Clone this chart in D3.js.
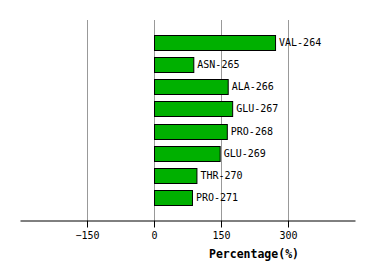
<!DOCTYPE html>
<html>
<head>
<meta charset="utf-8">
<style>
  body { margin: 0; background: #fff; }
  svg text { font-family: "DejaVu Sans Mono", monospace; }
</style>
</head>
<body>
<div id="chart"></div>
<script src="https://d3js.org/d3.v7.min.js"></script>
<script>
var residues = ["VAL-264", "ASN-265", "ALA-266", "GLU-267", "PRO-268", "GLU-269", "THR-270", "PRO-271"];
var percents = [271, 88, 165, 175, 163, 147, 95, 85];
var tickValues = [-150, 0, 150, 300];

var width = 374, height = 280;
var plotLeft = 20, plotRight = 355, plotTop = 20, plotBottom = 220;

var svg = d3.select("#chart").append("svg")
  .attr("width", width)
  .attr("height", height);

var x = d3.scaleLinear().domain([-300, 450]).range([plotLeft, plotRight]);
var y = d3.scalePoint().domain(residues).range([plotTop, plotBottom]).padding(1);

// grid
svg.append("g").selectAll("line")
  .data(tickValues)
  .enter().append("line")
  .attr("x1", function(d) { return Math.round(x(d)) + 0.5; })
  .attr("x2", function(d) { return Math.round(x(d)) + 0.5; })
  .attr("y1", plotTop)
  .attr("y2", plotBottom)
  .style("stroke", "#999")
  .style("stroke-width", 1);

// bars
var barH = 15;
svg.append("g").selectAll("rect")
  .data(residues)
  .enter().append("rect")
  .attr("x", Math.round(x(0)) + 0.5)
  .attr("y", function(d) { return Math.round(y(d) - barH / 2) + 0.5; })
  .attr("width", function(d, i) { return x(percents[i]) - x(0); })
  .attr("height", barH)
  .style("fill", "#00b000")
  .style("stroke", "#000")
  .style("stroke-width", 1);

svg.append("g").selectAll("text")
  .data(residues)
  .enter().append("text")
  .attr("x", function(d, i) { return x(percents[i]) + 4; })
  .attr("y", function(d) { return y(d); })
  .attr("dy", "0.35em")
  .style("font-size", "10px")
  .style("fill", "#000")
  .text(function(d) { return d; });

// axis
var axis = svg.append("g")
  .attr("transform", "translate(0," + (plotBottom + 0.5) + ")")
  .call(d3.axisBottom(x).tickValues(tickValues).tickSize(7).tickSizeOuter(0).tickPadding(4));
axis.select(".domain").style("stroke", "#000");
axis.selectAll(".tick line").style("stroke", "#000");
axis.selectAll(".tick text")
  .style("font-family", "'DejaVu Sans Mono', monospace")
  .style("font-size", "10px")
  .style("fill", "#000");

svg.append("text")
  .attr("x", 254)
  .attr("y", 258)
  .style("text-anchor", "middle")
  .style("font-size", "11.5px")
  .style("font-weight", "bold")
  .text("Percentage(%)");
</script>
</body>
</html>
